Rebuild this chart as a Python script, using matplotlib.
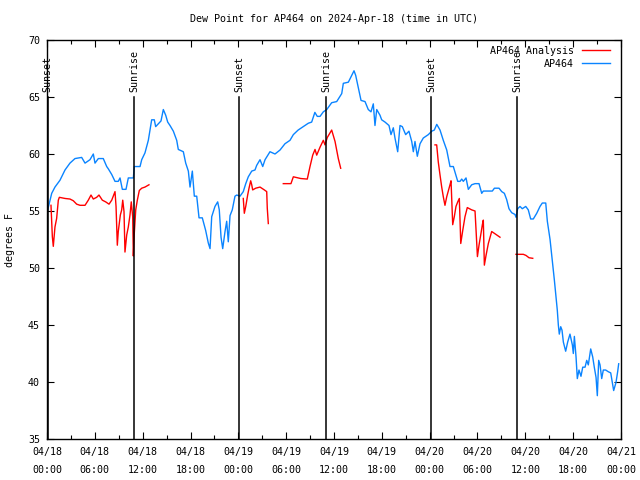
import numpy as np
import matplotlib
matplotlib.use('Agg')
import matplotlib.pyplot as plt

# hours since 2024-04-18 00:00 UTC
tick_hours = [0, 6, 12, 18, 24, 30, 36, 42, 48, 54, 60, 66, 72]
tick_labels = ['04/18\n00:00', '04/18\n06:00', '04/18\n12:00', '04/18\n18:00',
               '04/19\n00:00', '04/19\n06:00', '04/19\n12:00', '04/19\n18:00',
               '04/20\n00:00', '04/20\n06:00', '04/20\n12:00', '04/20\n18:00',
               '04/21\n00:00']

sun_hours = [0.07, 10.93, 24.09, 35.0, 48.16, 58.95]
sun_labels = ['Sunset', 'Sunrise', 'Sunset', 'Sunrise', 'Sunset', 'Sunrise']

# AP464 observed dew point
obs_hours = [0.0, 0.09, 0.59, 1.0, 1.63, 2.26, 2.88, 3.51, 4.35, 4.77, 5.39, 5.81, 6.02, 6.44,
             7.06, 7.49, 7.69, 8.12, 8.53, 8.94, 9.16, 9.45, 9.91, 10.2, 10.83, 10.95, 11.67,
             11.88, 12.29, 12.71, 13.13, 13.46, 13.63, 14.3, 14.59, 14.89, 15.14, 15.43, 15.85,
             16.27, 16.47, 17.1, 17.4, 17.73, 17.94, 18.23, 18.48, 18.78, 19.07, 19.48, 19.9,
             20.23, 20.45, 20.66, 21.07, 21.41, 21.61, 21.83, 22.04, 22.33, 22.54, 22.74, 22.96,
             23.24, 23.58, 23.8, 24.21, 24.62, 24.93, 25.25, 25.68, 26.09, 26.3, 26.72, 27.06,
             27.35, 27.97, 28.6, 29.23, 29.85, 30.48, 30.9, 31.5, 32.15, 32.78, 33.2, 33.6, 33.9,
             34.25, 34.66, 35.09, 35.71, 36.34, 36.97, 37.17, 37.8, 38.22, 38.51, 38.72, 39.05,
             39.39, 39.89, 40.3, 40.64, 40.93, 41.14, 41.36, 41.77, 41.98, 42.4, 42.9, 43.15,
             43.44, 43.65, 43.99, 44.28, 44.57, 44.99, 45.4, 45.75, 45.95, 46.16, 46.45, 46.79,
             47.2, 47.83, 48.26, 48.58, 48.89, 49.3, 49.71, 50.14, 50.55, 50.97, 51.27, 51.52,
             51.81, 52.02, 52.22, 52.56, 52.85, 53.27, 53.69, 54.19, 54.53, 54.73, 55.86, 56.12,
             56.7, 57.04, 57.37, 57.66, 57.95, 58.29, 58.7, 58.83, 59.04, 59.33, 59.62, 60.05,
             60.37, 60.67, 61.0, 61.43, 61.84, 62.13, 62.56, 62.76, 63.1, 63.38, 63.64, 63.85,
             64.01, 64.14, 64.26, 64.44, 64.6, 64.77, 65.06, 65.31, 65.6, 65.9, 66.02, 66.15,
             66.36, 66.52, 66.73, 66.98, 67.2, 67.49, 67.7, 67.9, 68.2, 68.45, 68.65, 68.87,
             69.03, 69.2, 69.37, 69.58, 69.78, 70.08, 70.41, 70.71, 70.91, 71.08, 71.37, 71.58,
             71.71]
obs_vals = [55.0, 55.1, 56.55, 57.1, 57.7, 58.6, 59.2, 59.6, 59.7, 59.2, 59.5, 60.0, 59.2, 59.6,
            59.6, 58.9, 58.7, 58.2, 57.6, 57.6, 57.9, 56.9, 56.9, 57.9, 57.9, 58.9, 58.9,
            59.5, 60.1, 61.2, 63.0, 63.0, 62.4, 62.9, 63.9, 63.4, 62.8, 62.5, 62.0,
            61.2, 60.4, 60.2, 59.2, 58.5, 57.1, 58.5, 56.3, 56.3, 54.4, 54.4, 53.3,
            52.2, 51.7, 54.5, 55.4, 55.8, 55.1, 52.7, 51.7, 53.2, 54.1, 52.3, 54.6,
            55.1, 56.3, 56.4, 56.3, 56.7, 57.4, 58.0, 58.5, 58.6, 59.0, 59.5, 58.9,
            59.5, 60.2, 60.0, 60.35, 60.9, 61.2, 61.7, 62.1, 62.4, 62.7, 62.8, 63.65, 63.3,
            63.3, 63.7, 63.9, 64.5, 64.6, 65.3, 66.2, 66.3, 66.9, 67.3, 66.9, 65.8,
            64.7, 64.6, 63.9, 63.7, 64.4, 62.5, 63.9, 63.4, 63.0, 62.8, 62.5, 61.7,
            62.3, 61.4, 60.2, 62.5, 62.4, 61.7, 62.0, 61.1, 60.2, 61.1, 59.8, 60.9,
            61.4, 61.7, 62.0, 62.1, 62.6, 62.1, 61.2, 60.35, 58.9, 58.9, 58.2, 57.6,
            57.6, 57.8, 57.6, 57.9, 56.9, 57.3, 57.4, 57.4, 56.55, 56.75, 56.75, 57.0,
            57.0, 56.7, 56.55, 56.0, 55.2, 54.85, 54.7, 54.45, 55.2, 55.4, 55.2, 55.4,
            55.1, 54.3, 54.3, 54.8, 55.4, 55.7, 55.7, 54.1, 52.5, 50.7, 48.95, 47.5,
            46.3, 45.0, 44.2, 44.85, 44.55, 43.5, 42.7, 43.5, 44.2, 43.25, 42.5, 44.0,
            42.2, 40.3, 41.05, 40.5, 41.3, 41.3, 41.9, 41.5, 42.9, 42.2, 41.3, 40.4,
            38.8, 41.9, 41.5, 40.3, 41.05, 41.05, 40.9, 40.8, 39.95, 39.25, 39.95, 40.9,
            41.6]

# AP464 analysis (nan = gap)
nan = np.nan
ana_hours = [0.5, 0.67, 0.79, 1.0, 1.21, 1.42, 1.55, 2.26, 2.88, 3.3, 3.72, 4.14, 4.77, 5.18,
             5.52, 5.81, 6.23, 6.52, 6.94, 7.36, 7.78, 8.12, 8.53, 8.66, 8.82, 8.94, 9.2, 9.37,
             9.5, 9.66, 9.78, 10.0, 10.2, 10.41, 10.57, 10.75, 10.83, 10.95, 11.13, 11.33,
             11.58, 11.88, 12.29, 12.79, 18.0,
             24.62, 24.75, 24.93, 25.17, 25.34, 25.55, 25.68, 25.8, 26.18, 26.72, 27.26, 27.56,
             27.63, 27.76, 28.5,
             29.64, 30.6, 30.9, 31.82, 32.65, 32.99, 33.33, 33.62, 33.83, 34.25, 34.66, 34.87,
             35.16, 35.71, 36.13, 36.54, 36.84, 42.0,
             48.67, 48.88, 49.08, 49.3, 49.51, 49.71, 49.92, 50.14, 50.55, 50.68, 50.89, 51.09,
             51.3, 51.52, 51.72, 51.9, 52.15, 52.43, 52.72, 53.27, 53.69, 53.82, 53.99, 54.19,
             54.44, 54.61, 54.73, 54.86, 55.07, 55.36, 55.78, 56.2, 56.82, 58.0,
             58.83, 59.75, 60.09, 60.46, 60.93]
ana_vals = [55.5, 52.75, 51.9, 53.6, 54.35, 55.95, 56.2, 56.1, 56.05, 55.9, 55.6, 55.5, 55.5, 55.95,
            56.4, 56.05, 56.2, 56.4, 55.95, 55.8, 55.6, 55.95, 56.7, 55.4, 52.0, 53.2, 54.65, 55.1,
            55.95, 54.95, 51.4, 52.9, 53.6, 54.65, 55.8, 54.5, 51.05, 53.05, 55.1, 55.95,
            56.8, 57.0, 57.1, 57.3, nan,
            56.1, 54.8, 55.4, 56.4, 57.0, 57.65, 57.3, 56.85, 57.0, 57.1, 56.85, 56.7,
            55.25, 53.9, nan,
            57.4, 57.4, 58.0, 57.85, 57.8, 58.9, 59.9, 60.4, 59.9, 60.6, 61.2, 60.8,
            61.45, 62.1, 61.1, 59.6, 58.75, nan,
            60.8, 60.8, 59.3, 58.15, 57.1, 56.25, 55.5, 56.25, 57.3, 57.65, 53.8, 54.5,
            55.4, 55.8, 56.1, 52.15, 53.3, 54.5, 55.3, 55.1, 55.0, 53.3, 51.0, 52.0,
            53.05, 53.8, 54.2, 50.25, 51.1, 52.15, 53.2, 53.0, 52.7, nan,
            51.2, 51.2, 51.1, 50.9, 50.85]

plt.rcParams['font.family'] = 'DejaVu Sans Mono'
fs = 7.2

fig = plt.figure(figsize=(6.4, 4.8), dpi=100)
ax = fig.add_axes([47/640, 1 - 439/480, 574/640, 399/480])

ax.plot(ana_hours, ana_vals, color='#ff0000', linewidth=1.0, label='AP464 Analysis')
ax.plot(obs_hours, obs_vals, color='#0a84ff', linewidth=1.0, label='AP464')

# sunrise / sunset markers
for h, lab in zip(sun_hours, sun_labels):
    ax.plot([h, h], [35, 65], color='black', linewidth=1.1)
    ax.text(h, 65.4, lab, rotation=90, ha='center', va='bottom', fontsize=fs, clip_on=False)

ax.set_xlim(0, 72)
ax.set_ylim(35, 70)
ax.set_xticks(tick_hours)
ax.set_xticklabels(tick_labels, fontsize=fs)
for t in ax.get_xticklabels():
    t.set_linespacing(1.9)
ax.set_xticks(np.arange(0, 73, 3), minor=True)
ax.set_yticks([35, 40, 45, 50, 55, 60, 65, 70])
ax.tick_params(axis='both', which='both', direction='in', top=True, right=True,
               labelsize=fs, width=0.8)
ax.tick_params(axis='both', which='major', length=5)
ax.tick_params(axis='x', which='minor', length=3)
ax.tick_params(axis='x', which='major', pad=6)
ax.tick_params(axis='y', which='major', pad=5)
for s in ax.spines.values():
    s.set_linewidth(1.0)

fig.text(334/640, 1 - 19/480, 'Dew Point for AP464 on 2024-Apr-18 (time in UTC)',
         ha='center', va='center', fontsize=fs)
fig.text(10/640, 0.5, 'degrees F', rotation=90, ha='center', va='center', fontsize=fs)

ax.legend(loc='upper right', bbox_to_anchor=(563/574, 1 - 6/399), frameon=False,
          markerfirst=False, fontsize=fs, borderpad=0, borderaxespad=0,
          handlelength=2.8, handletextpad=0.8, labelspacing=0.3)

fig.savefig('out.png', dpi=100)
